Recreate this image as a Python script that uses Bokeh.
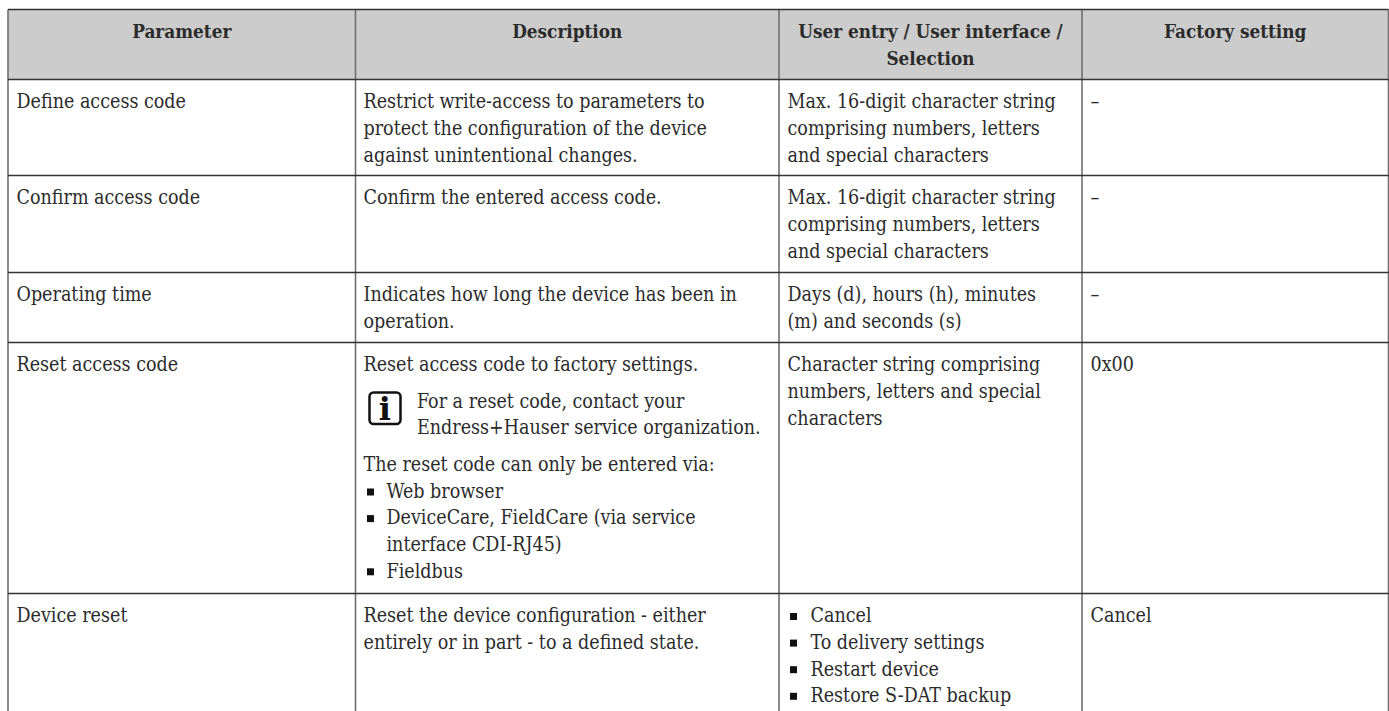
from bokeh.plotting import figure
from bokeh.models import Range1d, BoxAnnotation
from bokeh.core.properties import value
from bokeh.embed import file_html
from bokeh.resources import INLINE

FONT = "DejaVu Serif Condensed"
INK = "#2b2b2b"

headers = ["Parameter", "Description", "User entry / User interface /\nSelection", "Factory setting"]
parameters = ["Define access code", "Confirm access code", "Operating time", "Reset access code", "Device reset"]
descriptions = [
    ["Restrict write-access to parameters to", "protect the configuration of the device", "against unintentional changes."],
    ["Confirm the entered access code."],
    ["Indicates how long the device has been in", "operation."],
    ["Reset access code to factory settings."],
    ["Reset the device configuration - either", "entirely or in part - to a defined state."],
]
selections = [
    ["Max. 16-digit character string", "comprising numbers, letters", "and special characters"],
    ["Max. 16-digit character string", "comprising numbers, letters", "and special characters"],
    ["Days (d), hours (h), minutes", "(m) and seconds (s)"],
    ["Character string comprising", "numbers, letters and special", "characters"],
    [],
]
factory = ["–", "–", "–", "0x00", "Cancel"]
note_lines = ["For a reset code, contact your", "Endress+Hauser service organization."]
entry_intro = "The reset code can only be entered via:"
entry_bullets = [["Web browser"], ["DeviceCare, FieldCare (via service", "interface CDI-RJ45)"], ["Fieldbus"]]
reset_bullets = ["Cancel", "To delivery settings", "Restart device", "Restore S-DAT backup"]

W, H = 1389, 711
col_edges = [7.5, 355, 778.5, 1081.5, 1388]
row_edges = [9, 79, 175, 272, 342, 593, 711]
col_text = [16, 363, 787, 1090]
LH = 26.6
FS = "19.5px"
FS_BOLD = "18.8px"
SHIFT = -6.2

p = figure(width=W, height=H, output_backend="svg", toolbar_location=None,
           x_range=Range1d(0, W), y_range=Range1d(H, 0), min_border=0,
           x_axis_location=None, y_axis_location=None, outline_line_color=None)
p.xgrid.visible = False
p.ygrid.visible = False
p.background_fill_color = "white"

p.quad(left=[col_edges[0]], right=[col_edges[-1]], top=[row_edges[0]], bottom=[row_edges[1]],
       fill_color="#cccccc", line_color=None)
p.segment(x0=col_edges, x1=col_edges, y0=[row_edges[0]] * 5, y1=[row_edges[-1]] * 5,
          line_color="#6f6f6f", line_width=1.6)
p.segment(x0=[col_edges[0]] * 6, x1=[col_edges[-1]] * 6, y0=row_edges[:-1], y1=row_edges[:-1],
          line_color="#333333", line_width=1.3)

xs, ys, ts = [], [], []
def put(x, y, lines):
    for i, t in enumerate(lines):
        xs.append(x); ys.append(y + i * LH); ts.append(t)

tops = row_edges[1:6]
BASE = 28.5
for c, lines in enumerate([[[t] for t in parameters], descriptions, selections, [[t] for t in factory]]):
    for top, cell in zip(tops, lines):
        put(col_text[c], top + BASE, cell)

reset_top = tops[3]
put(416.5, reset_top + 65, note_lines)
put(col_text[1], reset_top + 128.5, [entry_intro])
bx, by = [], []
y = reset_top + 155
for item in entry_bullets:
    bx.append(370); by.append(y - 5.5)
    put(386, y, item)
    y += LH * len(item)
y = tops[4] + BASE
for item in reset_bullets:
    bx.append(793); by.append(y - 5.5)
    put(810, y, [item])
    y += LH

p.text(x=xs, y=ys, text=ts, text_font=value(FONT), text_font_size=FS, text_color=INK,
       text_baseline="alphabetic", text_align="left", y_offset=SHIFT)

hx, hy, ht = [], [], []
centers = [(col_edges[i] + col_edges[i + 1]) / 2 for i in range(4)]
for cx, h in zip(centers, headers):
    for i, t in enumerate(h.split("\n")):
        hx.append(cx); hy.append(row_edges[0] + 28 + i * LH); ht.append(t)
p.text(x=hx, y=hy, text=ht, text_font=value(FONT), text_font_size=FS_BOLD, text_font_style="bold",
       text_color=INK, text_align="center", text_baseline="alphabetic", y_offset=SHIFT)

p.scatter(x=bx, y=by, marker="square", size=7, fill_color="#111111", line_color=None)

icon = BoxAnnotation(left=369, right=400, top=392, bottom=423.5, fill_color="white", fill_alpha=1,
                     line_color="#111111", line_alpha=1, line_width=2.5, border_radius=4, level="underlay")
p.add_layout(icon)
p.text(x=[384.3], y=[419], text=["i"], text_font=value("DejaVu Serif"), text_font_size="32px",
       text_font_style="bold", text_color="#111111", text_align="center", text_baseline="alphabetic",
       y_offset=-10.5)

html = file_html(p, INLINE)
html = html.replace("<head>", "<head><style>html,body{margin:0;padding:0;overflow:hidden}</style>", 1)
open("out.html", "w").write(html)
